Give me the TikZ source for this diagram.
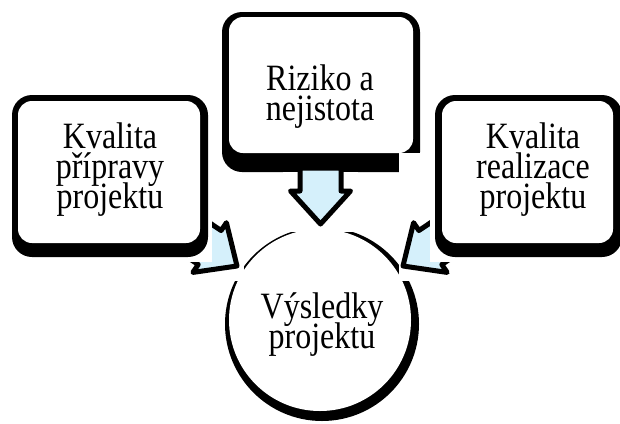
\documentclass[tikz,border=0pt]{standalone}
\usepackage{fontspec}
\setmainfont{Liberation Serif}
\definecolor{arrowblue}{RGB}{213,240,251}
% one line of box text, slightly tall, with no height of its own
\newcommand\tline[1]{\smash{\scalebox{1}[1.16]{#1}}}
\tikzset{
  shadowpart/.style={fill=black},
  facepart/.style={fill=white},
  backing/.style={fill=white},
  blockarrow/.style={fill=arrowblue, draw=black, line width=5pt, line join=round},
  boxtext/.style={font=\fontsize{32}{30}\selectfont, align=center, inner sep=0pt, anchor=base}
}
\begin{document}
\begin{tikzpicture}[x=1pt,y=-1pt]
\useasboundingbox (0,0) rectangle (620,423);

% result circle
\fill[shadowpart] (322,324) circle[radius=97];
\fill[facepart] (320,320) circle[radius=91];

% top box
\fill[shadowpart, rounded corners=20pt] (222,12) rectangle (420,172);
\fill[facepart, rounded corners=14pt] (229,17) rectangle (413,153);

% white backings of the three arrows
\fill[backing] (283,172) rectangle (358,232);
\fill[backing] (186,195) rectangle (244,281);
\fill[backing] (399,153) rectangle (456,281);

% block arrows
\filldraw[blockarrow] (300,168) -- (300,191) -- (290.5,191) -- (320.5,224)
  -- (350.5,191) -- (341,191) -- (341,168) -- cycle;
\filldraw[blockarrow, shift={(237,266)}, rotate=-34] (0,0) -- (-33,30) -- (-33,20.5)
  -- (-90,20.5) -- (-90,-20.5) -- (-33,-20.5) -- (-33,-30) -- cycle;
\filldraw[blockarrow, shift={(403,266)}, rotate=-146] (0,0) -- (-33,30) -- (-33,20.5)
  -- (-90,20.5) -- (-90,-20.5) -- (-33,-20.5) -- (-33,-30) -- cycle;

% left box
\fill[backing] (5,88) rectangle (212,262);
\fill[shadowpart, rounded corners=20pt] (12,95) rectangle (208,257);
\fill[facepart, rounded corners=14pt] (18,101) rectangle (200,243);

% right box
\fill[backing] (430,88) rectangle (620,262);
\fill[shadowpart, rounded corners=20pt] (435,95) rectangle (622,257);
\fill[facepart, rounded corners=14pt] (442,101) rectangle (613,243);

% texts (anchored at the baseline of the last line)
\node[boxtext] (prep) at (110,208) {\tline{Kvalita}\\\tline{přípravy}\\\tline{projektu}};
\node[boxtext] (risk) at (320,120) {\tline{Riziko a}\\\tline{nejistota}};
\node[boxtext] (real) at (533,208) {\tline{Kvalita}\\\tline{realizace}\\\tline{projektu}};
\node[boxtext] (result) at (322,348) {\tline{Výsledky}\\\tline{projektu}};
\end{tikzpicture}
\end{document}
